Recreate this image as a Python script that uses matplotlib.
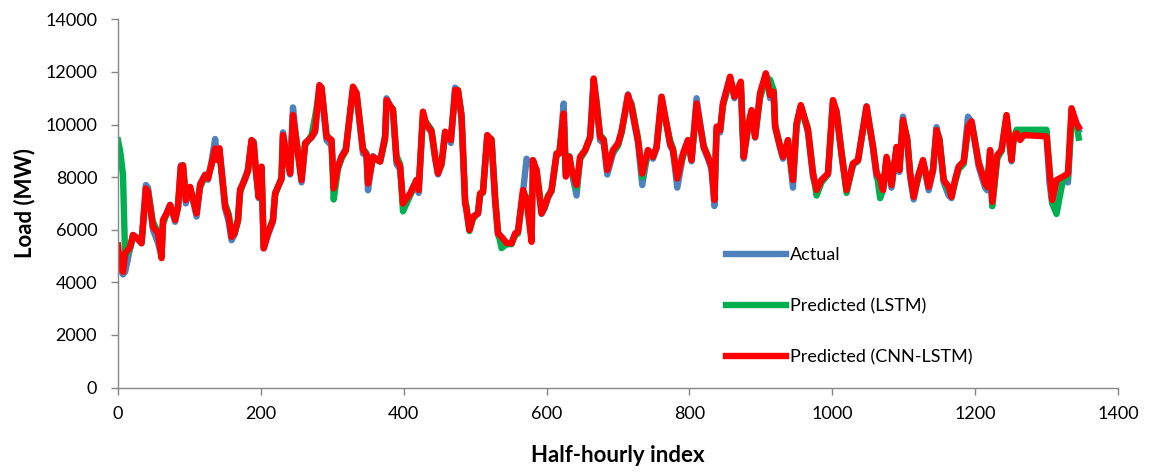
import matplotlib

matplotlib.use("Agg")
import matplotlib.pyplot as plt

# half-hourly index of the traced vertices (shared by all three series)
idx = [
    0, 3, 7, 10, 17, 21, 26, 33, 39, 42, 49, 56, 61, 63, 68, 73, 80, 84, 88, 91,
    95, 101, 110, 115, 122, 126, 131, 136, 139, 142, 150, 155, 159, 163, 168, 171, 178, 182, 187, 190,
    193, 197, 201, 204, 210, 217, 220, 224, 229, 231, 236, 241, 245, 250, 257, 262, 271, 276, 282, 285,
    292, 299, 302, 308, 313, 319, 329, 334, 343, 348, 350, 357, 367, 374, 376, 385, 390, 395, 399, 409,
    418, 421, 427, 431, 439, 444, 448, 453, 458, 466, 472, 476, 481, 486, 488, 492, 497, 504, 507, 511,
    517, 523, 528, 532, 537, 544, 551, 556, 560, 567, 572, 579, 581, 586, 593, 597, 602, 607, 614, 618,
    624, 627, 632, 635, 642, 647, 654, 661, 663, 666, 670, 675, 680, 685, 693, 700, 705, 714, 719, 728,
    734, 742, 749, 754, 761, 773, 777, 783, 791, 798, 803, 810, 820, 826, 831, 835, 838, 843, 847, 857,
    863, 872, 876, 882, 887, 892, 899, 907, 913, 918, 920, 927, 931, 938, 945, 950, 956, 966, 973, 978,
    985, 994, 1001, 1006, 1013, 1020, 1029, 1036, 1048, 1057, 1062, 1067, 1071, 1076, 1083, 1090, 1094, 1099, 1105, 1109,
    1114, 1120, 1127, 1135, 1141, 1146, 1150, 1156, 1163, 1167, 1172, 1177, 1184, 1190, 1195, 1205, 1214, 1217, 1221, 1224,
    1231, 1237, 1244, 1251, 1254, 1258, 1263, 1268, 1300, 1304, 1308, 1314, 1323, 1330, 1335, 1342, 1345,
]

cnn_lstm = [
    5400, 4700, 4400, 5100, 5350, 5800, 5700, 5480, 7570, 7450, 6110, 5860, 4920, 6370, 6620, 6940, 6370, 6880, 8400, 8450,
    7130, 7630, 6620, 7700, 8080, 7950, 8500, 9090, 8650, 9100, 6880, 6500, 5730, 5860, 6370, 7510, 7950, 8270, 9410, 9300,
    8270, 7250, 8400, 5290, 5860, 6370, 7380, 7630, 7950, 9600, 8800, 8140, 10360, 9300, 7890, 9280, 9530, 9790, 11500, 11400,
    9530, 9410, 7570, 8400, 8770, 9030, 11440, 11200, 9030, 8850, 7760, 8770, 8590, 9530, 10930, 10550, 8650, 8400, 7000, 7380,
    7890, 7510, 10490, 10050, 9730, 8770, 8140, 8520, 9730, 9410, 11310, 11300, 10300, 7000, 6750, 5990, 6490, 6620, 7380, 7440,
    9600, 9410, 7130, 5860, 5730, 5500, 5480, 5860, 5920, 7510, 7130, 5540, 8650, 8270, 6620, 6870, 7250, 7510, 8900, 8900,
    10420, 8020, 8770, 8270, 7700, 8770, 9030, 9530, 10300, 11750, 10800, 9530, 9410, 8270, 9030, 9280, 9730, 11120, 10680, 9410,
    8140, 9030, 8770, 9150, 11060, 9280, 9030, 7950, 8900, 9410, 8650, 10800, 9150, 8770, 8400, 7130, 9920, 9790, 10800, 11820,
    11060, 11630, 8770, 9920, 10550, 9530, 11190, 11950, 11120, 11250, 9920, 9150, 8770, 9410, 7890, 10040, 10740, 9790, 8140, 7510,
    7890, 8140, 10930, 10490, 8900, 7510, 8520, 8650, 10680, 9150, 8140, 7950, 7510, 8770, 7700, 9150, 8270, 10170, 9410, 8140,
    7250, 8020, 8650, 7630, 8270, 9790, 9410, 7890, 7630, 7250, 7890, 8400, 8590, 9920, 10120, 8520, 7760, 7630, 9030, 7060,
    8840, 9030, 10360, 8650, 9530, 9670, 9410, 9600, 9550, 8270, 7130, 7890, 8020, 8140, 10620, 10040, 9900,
]

actual = [
    5000, 4500, 4300, 4400, 5300, 5800, 5700, 5500, 7700, 7600, 6000, 5500, 5000, 6300, 6600, 6950, 6300, 6900, 8450, 8400,
    7000, 7600, 6500, 7750, 8100, 7900, 8600, 9450, 8700, 9000, 6800, 6300, 5600, 5800, 6400, 7550, 7900, 8300, 9400, 9200,
    8200, 7200, 8350, 5300, 5800, 6300, 7400, 7600, 8000, 9700, 8800, 8100, 10650, 9300, 7800, 9300, 9500, 9700, 11450, 11300,
    9400, 9200, 7800, 8400, 8800, 9100, 11300, 11100, 8900, 8800, 7500, 8800, 8600, 9600, 11000, 10500, 8500, 8300, 7000, 7350,
    7900, 7400, 10400, 10000, 9700, 8700, 8100, 8500, 9700, 9300, 11400, 11300, 10200, 7100, 6700, 6000, 6500, 6600, 7300, 7500,
    9500, 9300, 7100, 5800, 5600, 5450, 5500, 5800, 5950, 7400, 8700, 8500, 8300, 8100, 6600, 6800, 7200, 7500, 8900, 8900,
    10800, 8100, 8700, 8200, 7300, 8700, 9000, 9500, 10400, 11700, 10700, 9400, 9300, 8100, 8900, 9200, 9700, 11150, 10600, 9300,
    7700, 9000, 8700, 9100, 11050, 9200, 9000, 7600, 8800, 9400, 8600, 11000, 9100, 8700, 8300, 6900, 9700, 9700, 10800, 11800,
    11000, 11500, 8700, 9900, 10500, 9500, 11200, 11900, 11000, 11200, 9900, 9100, 8700, 9400, 7600, 10000, 10700, 9700, 8000, 7500,
    7900, 8100, 10900, 10400, 8800, 7500, 8500, 8600, 10700, 9100, 8000, 7900, 7500, 8700, 7600, 9100, 8200, 10300, 9300, 8000,
    7150, 8000, 8600, 7500, 8200, 9900, 9400, 7800, 7300, 7200, 7900, 8400, 8600, 10300, 10100, 8400, 7600, 7500, 9000, 6900,
    8800, 9000, 10300, 8600, 9500, 9700, 9500, 9650, 9650, 7800, 7000, 7800, 7900, 7800, 10300, 10000, 9800,
]

lstm = [
    9400, 9000, 8100, 5000, 5300, 5700, 5700, 5550, 7300, 7500, 6300, 5900, 5200, 6200, 6600, 6900, 6450, 6800, 8300, 8450,
    7300, 7550, 6800, 7600, 8050, 8000, 8450, 9000, 8700, 9000, 7000, 6600, 5900, 5850, 6300, 7400, 8000, 8200, 9350, 9350,
    8300, 7350, 8300, 5500, 5900, 6400, 7300, 7650, 7900, 9500, 8900, 8200, 10200, 9400, 8000, 9200, 9600, 10300, 11300, 11400,
    9600, 9400, 7150, 8300, 8700, 9000, 11300, 11200, 9100, 8900, 7900, 8700, 8600, 9400, 10800, 10600, 8800, 8500, 6700, 7300,
    7800, 7600, 10300, 10100, 9800, 8800, 8200, 8450, 9600, 9450, 11200, 11300, 10400, 7100, 6900, 5950, 6400, 6650, 7350, 7400,
    9500, 9450, 7300, 5950, 5300, 5450, 5450, 5800, 5850, 7350, 7250, 5700, 8400, 8300, 6800, 6800, 7300, 7450, 8800, 8950,
    10300, 8200, 8800, 8300, 7600, 8700, 9000, 9500, 10200, 11600, 10900, 9600, 9450, 8400, 8950, 9200, 9700, 11000, 10800, 9500,
    8000, 8900, 8800, 9100, 10900, 9400, 9100, 8000, 8800, 9350, 8700, 10700, 9200, 8800, 8450, 7200, 9800, 9800, 10700, 11700,
    11100, 11500, 8900, 9800, 10500, 9600, 11000, 11800, 11700, 11300, 10000, 9200, 8800, 9350, 7900, 9900, 10700, 9850, 8200, 7300,
    7800, 8100, 10800, 10500, 9000, 7400, 8450, 8650, 10600, 9200, 8200, 7200, 7500, 8700, 7700, 9100, 8300, 10100, 9500, 8200,
    7300, 7900, 8600, 7700, 8300, 9700, 9500, 7900, 7500, 7300, 7800, 8300, 8500, 9800, 10100, 8600, 7800, 7600, 8900, 6900,
    8700, 9000, 10300, 8700, 9500, 9800, 9800, 9800, 9800, 8400, 7000, 6600, 7900, 8000, 10200, 10000, 9500,
]

series_labels = ["Actual", "Predicted (LSTM)", "Predicted (CNN-LSTM)"]
series_colors = ["#4F81BD", "#00B050", "#FF0000"]

x_ticks = [0, 200, 400, 600, 800, 1000, 1200, 1400]
y_ticks = [0, 2000, 4000, 6000, 8000, 10000, 12000, 14000]

plt.rcParams["font.family"] = ["Lato", "DejaVu Sans"]

fig = plt.figure(figsize=(11.51, 4.72), dpi=100)
ax = fig.add_axes([0.1025, 0.179, 0.8688, 0.780])

for values, label, color in zip([actual, lstm, cnn_lstm], series_labels, series_colors):
    ax.plot(idx, values, color=color, linewidth=4.6, label=label, solid_joinstyle="round")

ax.set_xlim(0, 1400)
ax.set_ylim(0, 14000)
ax.set_xticks(x_ticks)
ax.set_yticks(y_ticks)
ax.tick_params(axis="both", direction="out", length=5, width=1, color="#868686",
               labelsize=13, labelcolor="#000000")
ax.tick_params(axis="y", pad=10)
ax.tick_params(axis="x", pad=8)

for side in ("top", "right"):
    ax.spines[side].set_visible(False)
for side in ("left", "bottom"):
    ax.spines[side].set_color("#868686")
    ax.spines[side].set_linewidth(1)

ax.set_xlabel("Half-hourly index", fontsize=16, fontweight="bold", labelpad=17)
ax.set_ylabel("Load (MW)", fontsize=16, fontweight="bold", labelpad=7)

ax.legend(loc="upper left", bbox_to_anchor=(726 / 1151, 1 - 247 / 472),
          bbox_transform=fig.transFigure, frameon=False, fontsize=13,
          handlelength=3.3, handletextpad=0.25, labelspacing=1.95,
          borderaxespad=0, borderpad=0)

fig.savefig("out.png", dpi=100)
